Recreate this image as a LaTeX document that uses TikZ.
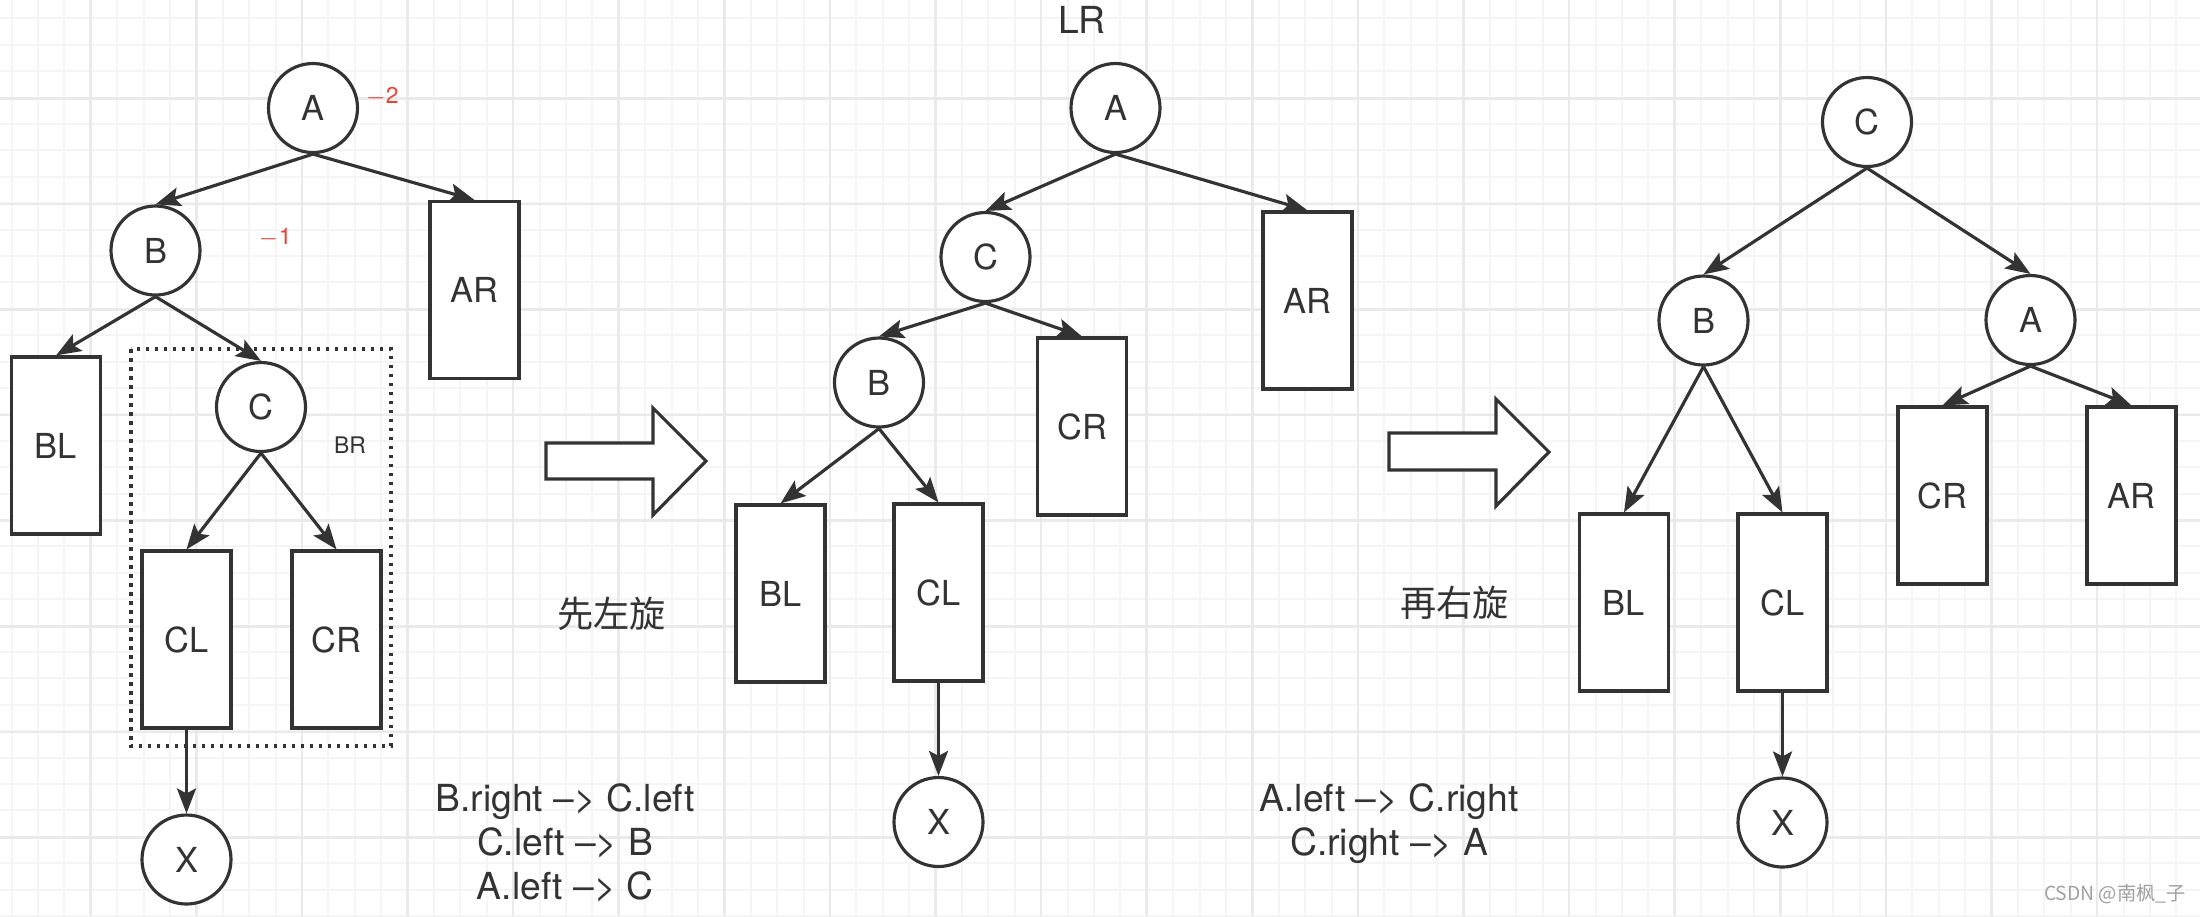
\documentclass[tikz,border=0pt]{standalone}
\usepackage{fontspec}
\setmainfont{TeX Gyre Heros}
\newfontfamily\cjkfont{Noto Sans CJK SC}
\usetikzlibrary{arrows.meta}
\definecolor{inkgray}{RGB}{51,51,51}
\definecolor{balancered}{RGB}{234,67,53}
\definecolor{gridminor}{RGB}{245,245,245}
\definecolor{gridmajor}{RGB}{234,234,234}
\definecolor{markgray}{RGB}{160,160,160}

\tikzset{
  treenode/.style={circle, draw=inkgray, line width=0.9pt, fill=white,
    minimum size=8.9mm, inner sep=0pt, text=inkgray,
    font=\fontsize{9.8}{12}\selectfont},
  subtree/.style={rectangle, draw=inkgray, line width=0.9pt, fill=white,
    minimum width=8.9mm, minimum height=17.7mm, inner sep=0pt, text=inkgray,
    font=\fontsize{9.8}{12}\selectfont},
  link/.style={draw=inkgray, line width=0.9pt,
    -{Stealth[length=2.5mm, width=1.9mm, inset=0.5mm]}},
  factor/.style={text=balancered, inner sep=0pt, font=\fontsize{6.5}{8}\selectfont},
  note/.style={text=inkgray, inner sep=0pt, align=center,
    font=\fontsize{10.6}{12.5}\selectfont},
  cjknote/.style={text=inkgray, inner sep=0pt, font=\cjkfont\fontsize{10.3}{12}\selectfont},
  blockarrow/.style={draw=inkgray, line width=0.9pt, fill=white, line join=miter},
  minorline/.style={draw=gridminor, line width=0.2mm},
  majorline/.style={draw=gridmajor, line width=0.25mm},
}

\begin{document}
\begin{tikzpicture}[x=0.1mm, y=-0.1mm]
    % canvas and paper grid
    \useasboundingbox (0,0) rectangle (2200,916);
    \fill[white] (0,0) rectangle (2200,916);
    \foreach \k in {0,...,83}
        \draw[minorline] ({11.5+26.4*\k},0) -- ({11.5+26.4*\k},916);
    \foreach \k in {0,...,34}
        \draw[minorline] (0,{18.3+26.4*\k}) -- (2200,{18.3+26.4*\k});
    \foreach \k in {0,...,19}
        \draw[majorline] ({90.7+105.6*\k},0) -- ({90.7+105.6*\k},916);
    \foreach \k in {0,...,7}
        \draw[majorline] (0,{98.3+105.6*\k}) -- (2200,{98.3+105.6*\k});

    % Unbalanced tree
    \draw[inkgray, line width=1pt, dash pattern=on 0.35mm off 0.55mm]
        (131,349) rectangle (391,746);
    \node[treenode] (A1) at (313,108) {A};
    \node[treenode] (B1) at (155.5,250.5) {B};
    \node[subtree] (AR1) at (474.5,290) {AR};
    \node[subtree] (BL1) at (56,445.5) {BL};
    \node[treenode] (C1) at (261,407) {C};
    \node[subtree] (CL1) at (186.5,639.5) {CL};
    \node[subtree] (CR1) at (336.5,639.5) {CR};
    \node[treenode] (X1) at (186.5,859.5) {X};
    \node[factor] (bfA) at (382,97) {$-$2};
    \node[factor] (bfB) at (275,238) {$-$1};
    \node[factor, text=inkgray] (brTag) at (350,445) {BR};
    \draw[link] (A1.south) -- (B1.north);
    \draw[link] (A1.south) -- (AR1.north);
    \draw[link] (B1.south) -- (BL1.north);
    \draw[link] (B1.south) -- (C1.north);
    \draw[link] (C1.south) -- (CL1.north);
    \draw[link] (C1.south) -- (CR1.north);
    \draw[link] (CL1.south) -- (X1.north);

    % First step: rotate left
    \draw[blockarrow] (546,443) -- (653,443) -- (653,408) -- (706,461)
        -- (653,515) -- (653,479) -- (546,479) -- cycle;
    \node[cjknote] (stepOne) at (611.5,614) {先左旋};
    \node[note] (movesOne) at (565,843) {B.right –> C.left\\C.left –> B\\A.left –> C};

    % After left rotation
    \node[note] (caseTag) at (1082,19.5) {LR};
    \node[treenode] (A2) at (1115.5,108) {A};
    \node[treenode] (C2) at (985.5,257) {C};
    \node[subtree] (AR2) at (1307.5,300.5) {AR};
    \node[treenode] (B2) at (879,382.5) {B};
    \node[subtree] (CR2) at (1082,426.5) {CR};
    \node[subtree] (BL2) at (780.5,593.5) {BL};
    \node[subtree] (CL2) at (938.5,592.5) {CL};
    \node[treenode] (X2) at (938.5,822) {X};
    \draw[link] (A2.south) -- (C2.north);
    \draw[link] (A2.south) -- (AR2.north);
    \draw[link] (C2.south) -- (B2.north);
    \draw[link] (C2.south) -- (CR2.north);
    \draw[link] (B2.south) -- (BL2.north);
    \draw[link] (B2.south) -- (CL2.north);
    \draw[link] (CL2.south) -- (X2.north);

    % Second step: rotate right
    \draw[blockarrow] (1389,433) -- (1496,433) -- (1496,399) -- (1549,452)
        -- (1496,506) -- (1496,470) -- (1389,470) -- cycle;
    \node[cjknote] (stepTwo) at (1454.5,603) {再右旋};
    \node[note] (movesTwo) at (1389,824) {A.left –> C.right\\C.right –> A};

    % Balanced tree
    \node[treenode] (C3) at (1867,122) {C};
    \node[treenode] (B3) at (1703.5,320.5) {B};
    \node[treenode] (A3) at (2030.5,320) {A};
    \node[subtree] (CR3) at (1942.5,495.5) {CR};
    \node[subtree] (AR3) at (2131.5,495.5) {AR};
    \node[subtree] (BL3) at (1624,602.5) {BL};
    \node[subtree] (CL3) at (1782.5,602.5) {CL};
    \node[treenode] (X3) at (1782.5,822.5) {X};
    \draw[link] (C3.south) -- (B3.north);
    \draw[link] (C3.south) -- (A3.north);
    \draw[link] (B3.south) -- (BL3.north);
    \draw[link] (B3.south) -- (CL3.north);
    \draw[link] (A3.south) -- (CR3.north);
    \draw[link] (A3.south) -- (AR3.north);
    \draw[link] (CL3.south) -- (X3.north);

    \node[text=markgray, inner sep=0pt, font=\cjkfont\fontsize{5.5}{7}\selectfont]
        (mark) at (2115,894) {CSDN @南枫\_子};
\end{tikzpicture}
\end{document}
